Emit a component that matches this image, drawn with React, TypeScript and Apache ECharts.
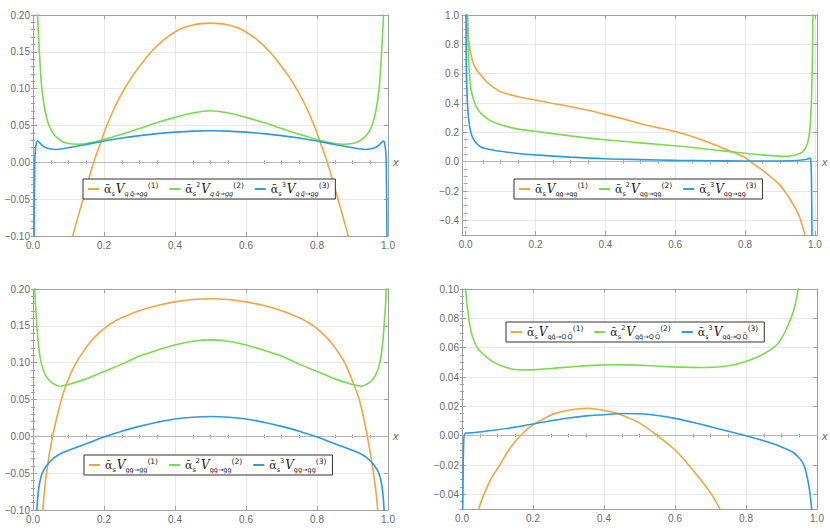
import React, { useEffect, useRef } from 'react'
import * as echarts from 'echarts'

// curve samples [x, value]
const qqbarGG1 = [
  [0.02, -0.32], [0.05, -0.23], [0.08, -0.16], [0.112, -0.1], [0.141, -0.05], [0.171, 0], [0.19, 0.026],
  [0.208, 0.05], [0.233, 0.0775], [0.258, 0.1], [0.28, 0.117], [0.3, 0.13], [0.333, 0.15], [0.37, 0.167],
  [0.4, 0.177], [0.425, 0.183], [0.45, 0.1865], [0.475, 0.1883], [0.5, 0.189], [0.525, 0.1883],
  [0.55, 0.1865], [0.575, 0.183], [0.6, 0.177], [0.63, 0.167], [0.667, 0.15], [0.7, 0.13], [0.72, 0.117],
  [0.742, 0.1], [0.767, 0.0775], [0.792, 0.05], [0.81, 0.026], [0.829, 0], [0.859, -0.05], [0.888, -0.1],
  [0.92, -0.16], [0.95, -0.23], [0.98, -0.32]
]
const qqbarGG2 = [
  [0.005, 0.6], [0.009, 0.32], [0.013, 0.2], [0.018, 0.15], [0.025, 0.1], [0.034, 0.07], [0.045, 0.05],
  [0.06, 0.037], [0.08, 0.029], [0.1, 0.0255], [0.125, 0.0245], [0.15, 0.0255], [0.2, 0.031], [0.25, 0.038],
  [0.3, 0.046], [0.35, 0.054], [0.4, 0.061], [0.45, 0.067], [0.5, 0.07], [0.55, 0.067], [0.6, 0.061],
  [0.65, 0.054], [0.7, 0.046], [0.75, 0.038], [0.8, 0.031], [0.85, 0.0255], [0.875, 0.0245], [0.9, 0.0255],
  [0.92, 0.029], [0.94, 0.037], [0.955, 0.05], [0.966, 0.07], [0.975, 0.1], [0.982, 0.15], [0.987, 0.2],
  [0.991, 0.32], [0.995, 0.6]
]
const qqbarGG3 = [
  [0.001, -0.3], [0.003, -0.1], [0.005, 0], [0.007, 0.018], [0.01, 0.027], [0.013, 0.029], [0.018, 0.027],
  [0.025, 0.0235], [0.035, 0.02], [0.05, 0.018], [0.065, 0.0175], [0.08, 0.0182], [0.1, 0.0197], [0.15, 0.0243],
  [0.2, 0.029], [0.25, 0.033], [0.3, 0.0363], [0.35, 0.039], [0.4, 0.041], [0.45, 0.0424], [0.5, 0.0428],
  [0.55, 0.0424], [0.6, 0.041], [0.65, 0.039], [0.7, 0.0363], [0.75, 0.033], [0.8, 0.029], [0.85, 0.0243],
  [0.9, 0.0197], [0.92, 0.0182], [0.935, 0.0175], [0.95, 0.018], [0.965, 0.02], [0.975, 0.0235], [0.982, 0.027],
  [0.987, 0.029], [0.99, 0.027], [0.993, 0.018], [0.995, 0], [0.997, -0.1], [0.999, -0.3]
]

const qgQG1 = [
  [0.002, 1.3], [0.004, 1.05], [0.007, 0.88], [0.01, 0.8], [0.015, 0.73], [0.022, 0.67], [0.03, 0.63],
  [0.042, 0.595], [0.06, 0.545], [0.08, 0.505], [0.1, 0.477], [0.15, 0.443], [0.2, 0.42], [0.25, 0.397],
  [0.3, 0.375], [0.35, 0.35], [0.4, 0.322], [0.45, 0.292], [0.5, 0.258], [0.55, 0.232], [0.6, 0.205],
  [0.65, 0.17], [0.7, 0.128], [0.75, 0.08], [0.8, 0.028], [0.815, 0], [0.85, -0.058], [0.87, -0.097],
  [0.9, -0.16], [0.925, -0.243], [0.94, -0.3], [0.955, -0.37], [0.968, -0.47], [0.975, -0.53], [0.985, -0.7]
]
const qgQG2 = [
  [0.003, 1.3], [0.005, 1.0], [0.007, 0.8], [0.01, 0.62], [0.015, 0.5], [0.024, 0.41], [0.035, 0.355],
  [0.05, 0.315], [0.07, 0.28], [0.1, 0.252], [0.15, 0.222], [0.2, 0.207], [0.3, 0.176], [0.4, 0.149],
  [0.5, 0.128], [0.6, 0.108], [0.7, 0.083], [0.8, 0.057], [0.85, 0.046], [0.9, 0.038], [0.916, 0.036],
  [0.935, 0.04], [0.95, 0.05], [0.963, 0.064], [0.972, 0.09], [0.978, 0.12], [0.983, 0.17], [0.986, 0.23],
  [0.989, 0.35], [0.991, 0.5], [0.993, 0.75], [0.995, 1.1]
]
const qgQG3 = [
  [0.001, 1.1], [0.002, 0.62], [0.005, 0.4], [0.009, 0.28], [0.0145, 0.2], [0.022, 0.155], [0.03, 0.128],
  [0.042, 0.102], [0.06, 0.088], [0.08, 0.078], [0.1, 0.071], [0.15, 0.056], [0.2, 0.046], [0.3, 0.031],
  [0.4, 0.02], [0.5, 0.014], [0.6, 0.009], [0.7, 0.0065], [0.8, 0.005], [0.9, 0.005], [0.95, 0.008],
  [0.97, 0.014], [0.98, 0.019], [0.986, 0.023], [0.988, 0.02], [0.99, -0.1], [0.992, -0.6]
]

const ggGG1 = [
  [0.015, -0.25], [0.028, -0.1], [0.038, -0.05], [0.055, 0], [0.08, 0.05], [0.1, 0.078], [0.122, 0.1],
  [0.14, 0.114], [0.16, 0.127], [0.183, 0.139], [0.207, 0.149], [0.23, 0.156], [0.25, 0.161], [0.3, 0.1705],
  [0.35, 0.1775], [0.4, 0.1825], [0.45, 0.1857], [0.5, 0.1868], [0.55, 0.1857], [0.6, 0.1825], [0.65, 0.1775],
  [0.7, 0.1705], [0.75, 0.161], [0.77, 0.156], [0.793, 0.149], [0.817, 0.139], [0.84, 0.127], [0.86, 0.114],
  [0.878, 0.1], [0.899, 0.076], [0.919, 0.05], [0.942, 0], [0.959, -0.05], [0.971, -0.1], [0.984, -0.25]
]
const ggGG2 = [
  [0.003, 0.35], [0.005, 0.2], [0.011, 0.15], [0.016, 0.122], [0.023, 0.1], [0.035, 0.083], [0.05, 0.074],
  [0.075, 0.068], [0.1, 0.0705], [0.15, 0.078], [0.2, 0.088], [0.25, 0.098], [0.3, 0.109], [0.35, 0.117],
  [0.4, 0.124], [0.45, 0.129], [0.5, 0.131], [0.55, 0.129], [0.6, 0.124], [0.65, 0.117], [0.7, 0.109],
  [0.75, 0.098], [0.8, 0.088], [0.85, 0.078], [0.9, 0.0705], [0.925, 0.068], [0.95, 0.074], [0.965, 0.083],
  [0.977, 0.1], [0.984, 0.122], [0.989, 0.15], [0.995, 0.2], [0.997, 0.35]
]
const ggGG3 = [
  [0.008, -0.15], [0.011, -0.1], [0.015, -0.075], [0.02, -0.06], [0.026, -0.05], [0.035, -0.042],
  [0.045, -0.036], [0.06, -0.029], [0.08, -0.023], [0.1, -0.019], [0.15, -0.01], [0.2, -0.001], [0.25, 0.007],
  [0.3, 0.0135], [0.35, 0.019], [0.4, 0.0235], [0.45, 0.026], [0.5, 0.027], [0.55, 0.026], [0.6, 0.0235],
  [0.65, 0.019], [0.7, 0.0135], [0.75, 0.007], [0.8, -0.001], [0.85, -0.01], [0.9, -0.019], [0.92, -0.023],
  [0.94, -0.029], [0.955, -0.036], [0.965, -0.042], [0.974, -0.05], [0.98, -0.06], [0.985, -0.075],
  [0.989, -0.1], [0.992, -0.15]
]

const qqbarQQ1 = [
  [0.03, -0.065], [0.047, -0.05], [0.06, -0.041], [0.0755, -0.0325], [0.09, -0.026], [0.104, -0.021],
  [0.127, -0.0115], [0.15, -0.004], [0.175, 0.0025], [0.2, 0.0073], [0.23, 0.0115], [0.263, 0.0152],
  [0.3, 0.0173], [0.353, 0.0187], [0.4, 0.0172], [0.442, 0.0148], [0.498, 0.0089], [0.545, 0.001],
  [0.6, -0.0098], [0.65, -0.0234], [0.697, -0.038], [0.727, -0.05], [0.76, -0.065]
]
const qqbarQQ2 = [
  [0.004, 0.13], [0.01, 0.1], [0.019, 0.08], [0.03, 0.067], [0.043, 0.06], [0.06, 0.0555], [0.08, 0.0515],
  [0.104, 0.0484], [0.14, 0.0455], [0.176, 0.0448], [0.22, 0.0452], [0.27, 0.0462], [0.32, 0.0472],
  [0.37, 0.0479], [0.42, 0.0484], [0.47, 0.0483], [0.52, 0.0478], [0.57, 0.0472], [0.62, 0.0467],
  [0.67, 0.0465], [0.72, 0.0468], [0.76, 0.048], [0.791, 0.05], [0.84, 0.0545], [0.889, 0.0625],
  [0.918, 0.075], [0.935, 0.086], [0.947, 0.1], [0.96, 0.125]
]
const qqbarQQ3 = [
  [0.001, -0.07], [0.003, -0.03], [0.005, -0.002], [0.008, 0.0014], [0.015, 0.0018], [0.03, 0.002],
  [0.06, 0.0028], [0.1, 0.004], [0.15, 0.0058], [0.2, 0.008], [0.25, 0.0102], [0.3, 0.0121], [0.35, 0.0135],
  [0.4, 0.0143], [0.45, 0.0151], [0.5, 0.0149], [0.55, 0.0137], [0.6, 0.0118], [0.65, 0.0091], [0.7, 0.0061],
  [0.75, 0.003], [0.8, 0], [0.85, -0.0035], [0.898, -0.0075], [0.93, -0.011], [0.945, -0.014],
  [0.958, -0.0177], [0.966, -0.022], [0.972, -0.028], [0.977, -0.034], [0.98, -0.039], [0.985, -0.05],
  [0.988, -0.06]
]

// tick labels
const xTicks = [0, 0.2, 0.4, 0.6, 0.8, 1]
const yTicksQQbarGG = [-0.1, -0.05, 0, 0.05, 0.1, 0.15, 0.2]
const yTicksQGQG = [-0.4, -0.2, 0, 0.2, 0.4, 0.6, 0.8, 1]
const yTicksGGGG = [-0.1, -0.05, 0, 0.05, 0.1, 0.15, 0.2]
const yTicksQQbarQQ = [-0.04, -0.02, 0, 0.02, 0.04, 0.06, 0.08, 0.1]

const ORANGE = '#F2A540'
const GREEN = '#7ADB4C'
const BLUE = '#2B9BE2'
const FRAME = '#a0a0a0'
const GRIDLINE = '#e8e8e8'
const TICKTEXT = '#6a6a6a'

const panels = [
  {
    key: 'a', grid: { left: 33, top: 15, width: 355, height: 221 },
    x: [0, 1], y: [-0.1, 0.2], yTicks: yTicksQQbarGG, yStep: 0.01, yDigits: 2,
    legendPos: { left: 83, top: 179 }, proc: 'q\u2009q\u0304\u2192gg', italic: true,
    curves: [qqbarGG1, qqbarGG2, qqbarGG3]
  },
  {
    key: 'b', grid: { left: 462, top: 15, width: 355, height: 220 },
    x: [-0.0106, 1.006], y: [-0.5, 1], yTicks: yTicksQGQG, yStep: 0.05, yDigits: 1,
    legendPos: { left: 514, top: 179 }, proc: 'qg\u2192qg', italic: false,
    curves: [qgQG1, qgQG2, qgQG3]
  },
  {
    key: 'c', grid: { left: 33, top: 289, width: 355, height: 221 },
    x: [0, 1], y: [-0.1, 0.2], yTicks: yTicksGGGG, yStep: 0.01, yDigits: 2,
    legendPos: { left: 84, top: 455 }, proc: 'gg\u2192gg', italic: false,
    curves: [ggGG1, ggGG2, ggGG3]
  },
  {
    key: 'd', grid: { left: 462, top: 289, width: 355, height: 220 },
    x: [0, 1], y: [-0.05, 0.1], yTicks: yTicksQQbarQQ, yStep: 0.005, yDigits: 2,
    legendPos: { left: 506, top: 322 }, proc: 'qq\u0304\u2192Q\u2009Q\u0304', italic: false,
    curves: [qqbarQQ1, qqbarQQ2, qqbarQQ3]
  }
]

const colors = [ORANGE, GREEN, BLUE]
const powers = ['', '2', '3']

const steps = (a: number, b: number, s: number) => {
  const out: number[] = []
  for (let k = Math.ceil(a / s - 1e-9); k * s <= b + 1e-9; k++) out.push(+(k * s).toFixed(4))
  return out
}

const fmt = (digits: number) => (v: number) =>
  (v < -1e-9 ? '\u2212' : '') + Math.abs(v).toFixed(digits)

const labelFont = { color: TICKTEXT, fontSize: 10, fontFamily: 'Liberation Sans, Arial, sans-serif' }

function axisSet(dim: 'x' | 'y', gridIndex: number, range: number[], major: number[], minor: number[], digits: number) {
  const near = dim === 'x' ? 'bottom' : 'left'
  const far = dim === 'x' ? 'top' : 'right'
  const base = {
    type: 'value', gridIndex, min: range[0], max: range[1],
    axisLine: { show: true, onZero: false, lineStyle: { color: FRAME, width: 1 } },
    splitLine: { show: false }
  }
  const tick = (vals: number[], length: number) => ({
    show: true, inside: true, length, customValues: vals, lineStyle: { color: FRAME, width: 1 }
  })
  return [
    {
      ...base, position: near,
      axisLabel: { ...labelFont, customValues: major, formatter: fmt(digits), margin: dim === 'x' ? 4 : 3 },
      axisTick: tick(major, 4),
      splitLine: { show: true, lineStyle: { color: GRIDLINE, width: 1 } }
    },
    { ...base, position: near, axisLine: { show: false }, axisLabel: { show: false }, axisTick: tick(minor, 2) },
    { ...base, position: far, axisLabel: { show: false }, axisTick: tick(major, 4) },
    { ...base, position: far, axisLine: { show: false }, axisLabel: { show: false }, axisTick: tick(minor, 2) }
  ]
}

const ink = '#222'
const richStyles = {
  a: { fontSize: 11, fontFamily: 'DejaVu Serif', color: ink, lineHeight: 16, verticalAlign: 'middle' },
  s: { fontSize: 6.5, fontFamily: 'DejaVu Sans', color: ink, lineHeight: 8, verticalAlign: 'bottom' },
  p: { fontSize: 6.5, fontFamily: 'DejaVu Sans', color: ink, lineHeight: 9, verticalAlign: 'top' },
  v: { fontSize: 12, fontFamily: 'DejaVu Serif', fontStyle: 'italic', color: ink, lineHeight: 16, verticalAlign: 'middle', padding: [0, 0, 0, 1] },
  sb: { fontSize: 6.5, fontFamily: 'DejaVu Sans', color: ink, lineHeight: 8, verticalAlign: 'bottom' },
  sbi: { fontSize: 6.5, fontFamily: 'DejaVu Sans', fontStyle: 'italic', color: ink, lineHeight: 8, verticalAlign: 'bottom' },
  sp: { fontSize: 7.5, fontFamily: 'DejaVu Sans', color: ink, lineHeight: 10, verticalAlign: 'top' }
}

function buildOption() {
  const grid: any[] = []
  const xAxis: any[] = []
  const yAxis: any[] = []
  const legend: any[] = []
  const series: any[] = []
  const labels: Record<string, string> = {}

  panels.forEach((p, gi) => {
    grid.push({ ...p.grid, show: false })
    xAxis.push(...axisSet('x', gi, p.x, xTicks, steps(0, 1, 0.05).filter((v) => !xTicks.includes(v)), 1))
    yAxis.push(...axisSet('y', gi, p.y, p.yTicks, steps(p.y[0], p.y[1], p.yStep), p.yDigits))

    const names = p.curves.map((_, ci) => `${p.key}${ci + 1}`)
    names.forEach((n, ci) => {
      labels[n] =
        `{a|\u1FB1}{s|s}` + (powers[ci] ? `{p|${powers[ci]}}` : '') +
        `{v|V}{${p.italic ? 'sbi' : 'sb'}|${p.proc}}{sp|(${ci + 1})}`
    })

    legend.push({
      data: names,
      left: p.legendPos.left,
      top: p.legendPos.top,
      orient: 'horizontal',
      icon: 'rect',
      itemWidth: 11,
      itemHeight: 2,
      itemGap: 11,
      padding: [2, 6, 2, 5],
      borderColor: '#333',
      borderWidth: 1,
      backgroundColor: '#fff',
      selectedMode: false,
      formatter: (name: string) => labels[name],
      textStyle: { rich: richStyles }
    })

    p.curves.forEach((data, ci) => {
      const s: any = {
        type: 'line',
        name: names[ci],
        xAxisIndex: gi * 4,
        yAxisIndex: gi * 4,
        data,
        color: colors[ci],
        symbol: 'none',
        showSymbol: false,
        smooth: 0.35,
        clip: true,
        lineStyle: { width: 1.6, color: colors[ci] },
        z: 3 + ci
      }
      if (ci === 0) {
        s.markLine = {
          silent: true,
          z: 1,
          symbol: ['none', 'none'],
          data: [{ yAxis: 0 }],
          lineStyle: { color: '#b8b8b8', width: 1, type: 'solid' },
          label: {
            show: true, position: 'end', formatter: 'x', distance: 5,
            color: '#666', fontSize: 11, fontStyle: 'italic', fontFamily: 'Liberation Sans, Arial, sans-serif'
          }
        }
      }
      series.push(s)
    })
  })

  return { animation: false, backgroundColor: '#fff', grid, xAxis, yAxis, legend, series }
}

export default function App() {
  const chartRef = useRef<HTMLDivElement>(null)

  useEffect(() => {
    if (!chartRef.current) return
    const chart = echarts.init(chartRef.current, undefined, { renderer: 'svg' })
    chart.setOption(buildOption() as any)
    return () => {
      chart.dispose()
    }
  }, [])

  return (
    <div
      ref={chartRef}
      style={{ position: 'fixed', left: 0, top: 0, width: 830, height: 532, background: '#fff' }}
    />
  )
}
